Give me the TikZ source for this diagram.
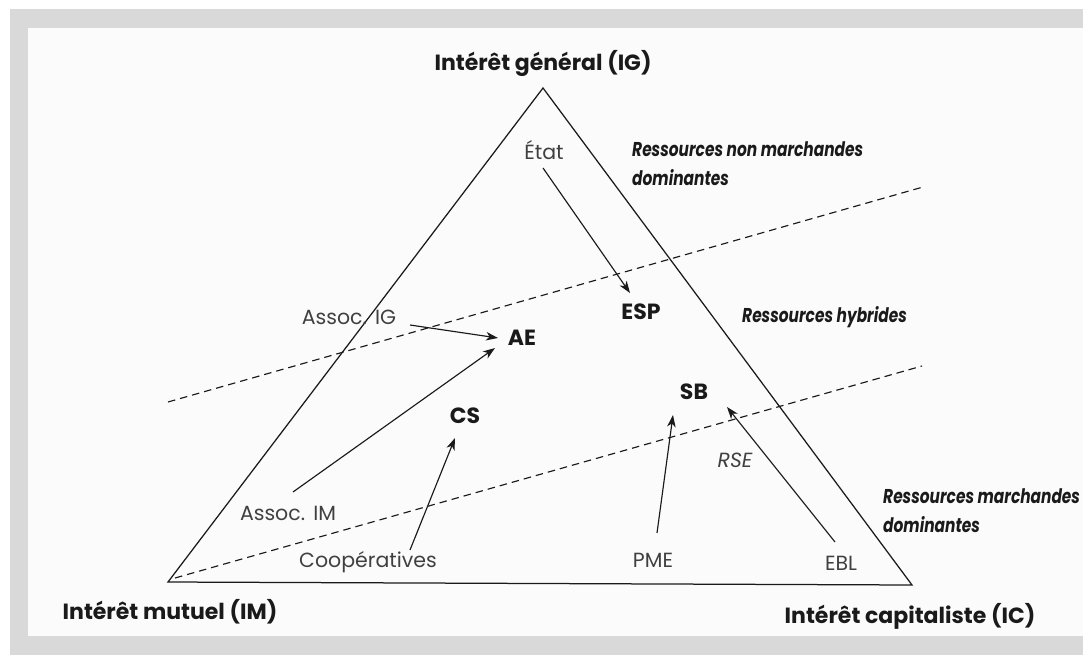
\documentclass[tikz,border=0pt]{standalone}
\usepackage{fontspec}
\setmainfont{Poppins}
\newfontfamily\condit[FakeStretch=0.77]{Poppins}
\usetikzlibrary{arrows.meta}
\definecolor{bandgray}{HTML}{D9D9D9}
\definecolor{paper}{HTML}{FBFBFB}
\definecolor{ink}{HTML}{1A1A1A}
\definecolor{soft}{HTML}{404040}
\begin{document}
\begin{tikzpicture}[x=1pt,y=-1pt,
  corner/.style={font=\fontsize{22}{26}\selectfont\bfseries, text=ink, inner sep=0pt},
  actor/.style={font=\fontsize{20.5}{24}\selectfont, text=soft, inner sep=0pt},
  hub/.style={font=\fontsize{22}{26}\selectfont\bfseries, text=ink, inner sep=0pt},
  zone/.style={font=\condit\fontsize{20}{29}\selectfont\bfseries\itshape, text=ink, inner sep=0pt, align=left, anchor=west},
  edgeline/.style={line width=1.25pt, draw=ink, line join=miter},
  arr/.style={line width=1.15pt, draw=ink, -{Stealth[length=12pt,width=8.5pt,inset=3.5pt]}},
  divider/.style={dash pattern=on 7.5pt off 5pt, line width=1.15pt, draw=ink}
]
\useasboundingbox (0,0) rectangle (1083,655);
\fill[white] (0,0) rectangle (1083,655);
\fill[bandgray] (10,9) rectangle (1083,655);
\fill[paper] (28,28) rectangle (1083,636);

% triangle vertices
\coordinate (IG) at (543,88);
\coordinate (IM) at (168,582);
\coordinate (IC) at (912,585);
\draw[edgeline] (IG) -- (IM) -- (IC) -- cycle;

% dashed dividers
\coordinate (d1a) at (168,402);
\coordinate (d1b) at (923,187);
\coordinate (d2a) at (175,578);
\coordinate (d2b) at (922,366);
\draw[divider] (d1a) -- (d1b);
\draw[divider] (d2a) -- (d2b);

% corner labels
\node[corner] (lig) at (543,63) {Intérêt général (IG)};
\node[corner] (lim) at (170,612) {Intérêt mutuel (IM)};
\node[corner] (lic) at (910,616) {Intérêt capitaliste (IC)};

% zone labels
\node[zone] (z1) at (632,164) {Ressources non marchandes\\dominantes};
\node[zone] (z2) at (742,317) {Ressources hybrides};
\node[zone] (z3) at (883,511) {Ressources marchandes\\dominantes};

% actors
\node[actor] (etat) at (544,150) {État};
\node[actor] (aig) at (349,317) {Assoc.\hspace{0.4em}IG};
\node[actor] (aim) at (288,513) {Assoc.\hspace{0.4em}IM};
\node[actor] (coop) at (368,562) {Coopératives};
\node[actor] (pme) at (653,560) {PME};
\node[actor] (ebl) at (841,563) {EBL};
\node[actor,font=\fontsize{20.5}{24}\selectfont\itshape] (rse) at (735,460) {RSE};

% hubs
\node[hub] (esp) at (641,312) {ESP};
\node[hub] (ae) at (522,338) {AE};
\node[hub] (cs) at (465,416) {CS};
\node[hub] (sb) at (694,392) {SB};

% arrows
\draw[arr] ([shift={(-1,18)}]etat.center) -- ([shift={(-11,-19)}]esp.center);
\draw[arr] ([shift={(61,8)}]aig.center) -- ([shift={(-24,0)}]ae.center);
\draw[arr] ([shift={(5,-21)}]aim.center) -- ([shift={(-27,10)}]ae.center);
\draw[arr] ([shift={(42,-12)}]coop.center) -- ([shift={(-10,22)}]cs.center);
\draw[arr] ([shift={(4,-27)}]pme.center) -- ([shift={(-21,23)}]sb.center);
\draw[arr] ([shift={(-6,-21)}]ebl.center) -- ([shift={(33,15)}]sb.center);
\end{tikzpicture}
\end{document}
